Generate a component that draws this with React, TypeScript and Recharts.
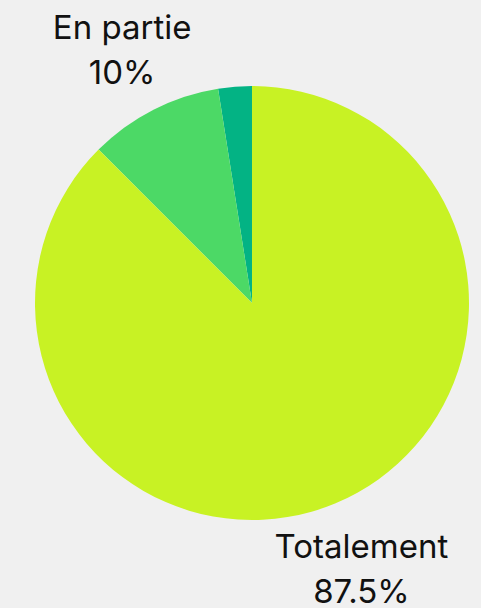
import { PieChart, Pie, Cell } from "recharts";

const names = ["Pas du tout", "En partie", "Totalement"];
const values = [2.5, 10, 87.5];
const showLabel = [false, true, true];
const colors = ["#03b384", "#4cd966", "#c8f224"];

const data = names.map((name, i) => ({ name, value: values[i] }));

const RADIAN = Math.PI / 180;

function renderLabel(props: any) {
  const { cx, cy, midAngle, outerRadius, index } = props;
  if (!showLabel[index]) return null;
  const r = outerRadius + 69;
  const x = cx + r * Math.cos(-midAngle * RADIAN);
  const y = cy + r * Math.sin(-midAngle * RADIAN);
  return (
    <text
      x={x}
      y={y}
      textAnchor="middle"
      fill="#111"
      fontSize={33}
      fontFamily="Inter, sans-serif"
    >
      <tspan x={x} y={y - 9.5}>
        {names[index]}
      </tspan>
      <tspan x={x} y={y + 35.5}>
        {values[index]}%
      </tspan>
    </text>
  );
}

export default function App() {
  return (
    <div
      style={{
        position: "absolute",
        left: 0,
        top: 0,
        width: 481,
        height: 608,
        background: "#f0f0f0",
      }}
    >
      <PieChart width={481} height={608} margin={{ top: 0, right: 0, bottom: 0, left: 0 }}>
        <Pie
          data={data}
          dataKey="value"
          nameKey="name"
          cx={252}
          cy={303}
          outerRadius={217}
          startAngle={90}
          endAngle={450}
          stroke="none"
          label={renderLabel}
          labelLine={false}
          isAnimationActive={false}
        >
          {data.map((d, i) => (
            <Cell key={d.name} fill={colors[i]} />
          ))}
        </Pie>
      </PieChart>
    </div>
  );
}
